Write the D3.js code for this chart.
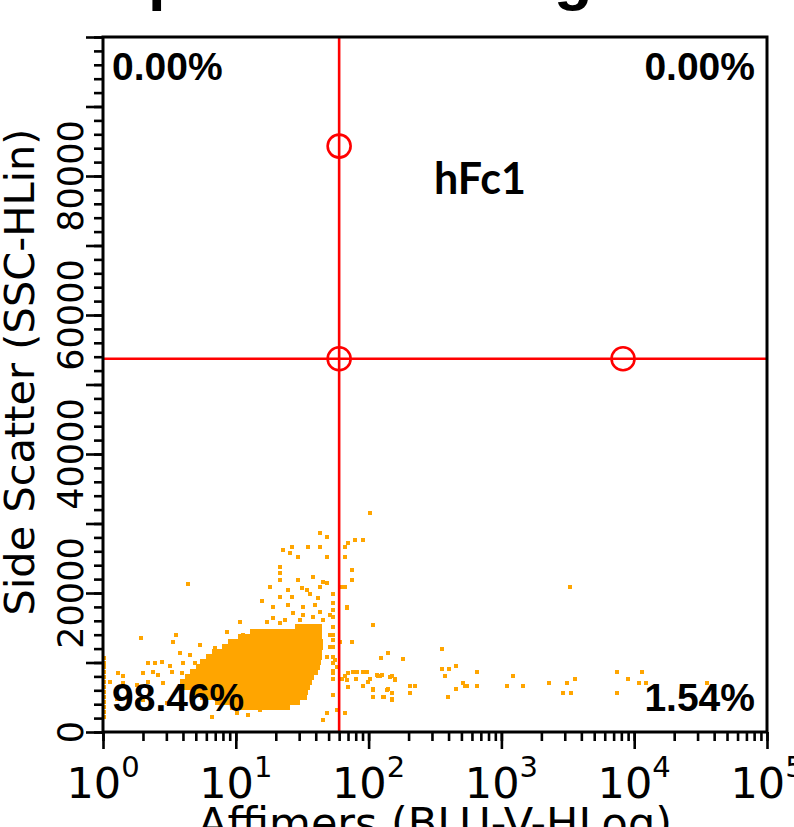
<!DOCTYPE html>
<html>
<head>
<meta charset="utf-8">
<script src="https://cdn.jsdelivr.net/npm/d3@7"></script>
<style>
  body { margin: 0; background: #fff; }
  svg { display: block; }
</style>
</head>
<body>
<svg id="plot" width="794" height="827"></svg>
<script>
// --- data ---
var titleText = "Specific binding";
var xTitle = "Affimers (BLU-V-HLog)";
var yTitle = "Side Scatter (SSC-HLin)";
var sampleName = "hFc1";

var xDecades = [1, 10, 100, 1000, 10000, 100000];
var yLabelValues = [0, 20000, 40000, 60000, 80000];

// quadrant gate (Affimer value, SSC value) and its handles
var gateX = 60;
var gateY = 53700;
var gateHandles = [[60, 84300], [60, 53700], [8240, 53700]];

// quadrant percentages: UL, UR, LL, LR
var quadText = ["0.00%", "0.00%", "98.46%", "1.54%"];

// dense part of the population: [SSC, Affimer min, Affimer max]
var blobRows = [
  [15110, 27.9, 44.6],
  [14390, 12.8, 44.6],
  [13670, 10.4, 44.6],
  [12950, 8.74, 45.4],
  [12230, 7.87, 45.4],
  [11510, 6.62, 44.6],
  [10790, 5.97, 44.6],
  [10070, 5.37, 43.8],
  [9350, 5.01, 43.1],
  [8630, 4.52, 41.6],
  [7910, 4.14, 38.8],
  [7200, 3.80, 37.5],
  [6480, 3.67, 36.2],
  [5760, 4.52, 35.0],
  [5040, 5.37, 34.4],
  [4320, 6.97, 30.4],
  [3600, 9.04, 25.6]
];

// events piled on the lower edge of the Affimer axis (SSC values)
var edgeEvents = [10650, 9930, 9350, 8630, 7910, 7200, 6480, 5760, 5040, 4320, 3600, 2880, 2160];

// scattered events: [Affimer, SSC]
var events = [
  [102, 31500], [43.1, 28640], [48.6, 28060], [22.7, 26190], [25.6, 25760], [26.5, 26620],
  [35.0, 26620], [43.1, 26620], [29.4, 25180], [48.6, 25180], [70.0, 27200], [79.0, 27630],
  [90.7, 27630], [66.4, 26620], [66.4, 25180], [21.5, 23740], [21.5, 22880], [21.5, 21870],
  [75.0, 23310], [75.0, 21870], [4.37, 21300], [29.4, 21870], [38.1, 22300], [45.4, 21590],
  [48.6, 21440], [18.1, 20870], [31.5, 20720], [43.1, 20870], [34.4, 20430], [24.7, 20430],
  [63.0, 20870], [66.4, 20870], [21.5, 19430], [26.5, 19430], [36.2, 19860], [41.6, 19280],
  [54.0, 19860], [15.7, 18850], [19.1, 17990], [24.7, 18280], [32.1, 17990], [39.5, 18280],
  [54.0, 18560], [68.8, 17840], [27.0, 17120], [32.1, 16840], [43.1, 17270], [51.2, 16840],
  [19.1, 16400], [23.5, 16120], [30.4, 16120], [38.1, 16550], [45.4, 16120], [108, 15400],
  [10.8, 15830], [17.2, 15830], [21.5, 15690], [8.59, 14390], [11.3, 13960], [14.4, 14390],
  [17.2, 14390], [51.2, 13960], [60.9, 12950], [75.0, 12950], [3.55, 13960], [3.37, 12950],
  [1.93, 13530], [5.37, 12520], [6.97, 12090], [4.52, 11080], [3.80, 11370], [51.2, 12230],
  [48.6, 10790], [55.8, 10360], [140, 11370], [124, 10650], [2.18, 9930], [2.46, 9930],
  [2.78, 10070], [3.20, 9500], [4.0, 9930], [4.93, 9930], [6.07, 10070], [1.30, 8490],
  [1.41, 8060], [2.0, 8490], [2.38, 8630], [2.59, 8200], [3.31, 8630], [3.93, 8490],
  [4.37, 7910], [1.13, 7200], [1.41, 7050], [1.80, 6760], [2.18, 7200], [2.83, 7050],
  [1.27, 4750], [1.54, 4890], [1.80, 4320], [2.0, 4600], [3.03, 4170], [6.62, 2160],
  [12.4, 2450], [15.2, 3170], [10.2, 2730], [48.6, 2730], [45.4, 1730], [66.4, 2730],
  [70.0, 8490], [76.3, 8630], [90.7, 8630], [97.2, 8630], [116, 8200], [126, 8200],
  [145, 7910], [158, 7480], [68.8, 7480], [70.0, 6480], [98.9, 7200], [108, 6040],
  [138, 6040], [150, 5610], [150, 4600], [128, 5040], [108, 5040], [54.0, 8490],
  [54.0, 9930], [57.8, 9350], [54.0, 17560], [54.0, 16550], [54.0, 15110], [54.0, 13960],
  [54.0, 13240], [54.0, 12230], [54.0, 10790], [54.0, 8780], [54.0, 7630], [54.0, 5320],
  [68.8, 17990], [182, 10500], [357, 11940], [81.8, 8630], [66.4, 8060], [63.0, 7630],
  [80.4, 7630], [118, 8060], [122, 8060], [150, 8060], [158, 7630], [102, 7630],
  [90.7, 6620], [108, 6190], [140, 6190], [205, 6620], [224, 6620], [205, 5610],
  [150, 4750], [131, 5040], [396, 5040], [357, 9070], [403, 9070], [455, 9500],
  [376, 8060], [514, 7050], [532, 6620], [551, 6620], [455, 6190], [655, 8630],
  [655, 6620], [1220, 8060], [1100, 6620], [1455, 6620], [2280, 7050], [3120, 7050],
  [3580, 7630], [2910, 5610], [3340, 5610], [3290, 20870], [7420, 8630], [7420, 5610],
  [8980, 7630], [11450, 8630], [10870, 7050], [12270, 7050], [35300, 7050], [57.8, 3170]
];

// --- layout ---
var svg = d3.select("#plot");
var plot = {left: 103, right: 767, top: 37, bottom: 732};
var dot = 4.3;
var orange = "#ffa500";

var x = d3.scaleLog()
    .domain([1, 100000])
    .range([plot.left, plot.right]);

var y = d3.scaleLinear()
    .domain([0, 100000])
    .range([plot.bottom, plot.top]);

var rowHalf = 400; // a bit more than half a bin in SSC units, so rows touch

// title (mostly outside the page)
svg.append("text")
    .attr("x", 106)
    .attr("y", -2)
    .attr("font-family", "Liberation Sans, Arial, sans-serif")
    .attr("font-weight", "bold")
    .attr("font-size", 63)
    .text(titleText);

// Draw the dense population
svg.selectAll(".blob")
    .data(blobRows)
  .enter().append("rect")
    .attr("class", "blob")
    .attr("x", function(d) { return x(d[1]); })
    .attr("width", function(d) { return x(d[2]) - x(d[1]); })
    .attr("y", function(d) { return y(d[0] + rowHalf); })
    .attr("height", function(d) { return y(d[0] - rowHalf) - y(d[0] + rowHalf); })
    .attr("shape-rendering", "crispEdges")
    .attr("fill", orange);

// events stacked on the axis
svg.selectAll(".edge")
    .data(edgeEvents)
  .enter().append("rect")
    .attr("class", "edge")
    .attr("x", x(1.02) - dot / 2)
    .attr("y", function(d) { return y(d) - dot / 2; })
    .attr("width", dot)
    .attr("height", dot)
    .attr("shape-rendering", "crispEdges")
    .attr("fill", orange);

// sparse events
svg.selectAll(".event")
    .data(events)
  .enter().append("rect")
    .attr("class", "event")
    .attr("x", function(d) { return x(d[0]) - dot / 2; })
    .attr("y", function(d) { return y(d[1]) - dot / 2; })
    .attr("width", dot)
    .attr("height", dot)
    .attr("shape-rendering", "crispEdges")
    .attr("fill", orange);

// Draw the quadrant gate
var gate = svg.append("g")
    .attr("stroke", "#ff0000")
    .attr("stroke-width", 2.6)
    .attr("fill", "none");

gate.append("line")
    .attr("x1", x(gateX)).attr("x2", x(gateX))
    .attr("y1", plot.top).attr("y2", plot.bottom);

gate.append("line")
    .attr("x1", plot.left).attr("x2", plot.right)
    .attr("y1", y(gateY)).attr("y2", y(gateY));

gate.selectAll("circle")
    .data(gateHandles)
  .enter().append("circle")
    .attr("cx", function(d) { return x(d[0]); })
    .attr("cy", function(d) { return y(d[1]); })
    .attr("r", 11.5);

// quadrant percentages
var qFont = "Liberation Sans, Arial, sans-serif";
var qPos = [
  {x: plot.left + 9, y: 80, anchor: "start"},
  {x: plot.right - 12, y: 80, anchor: "end"},
  {x: plot.left + 9, y: 711, anchor: "start"},
  {x: plot.right - 12, y: 711, anchor: "end"}
];
svg.selectAll(".quad")
    .data(quadText)
  .enter().append("text")
    .attr("class", "quad")
    .attr("x", function(d, i) { return qPos[i].x; })
    .attr("y", function(d, i) { return qPos[i].y; })
    .attr("text-anchor", function(d, i) { return qPos[i].anchor; })
    .attr("font-family", qFont)
    .attr("font-weight", "bold")
    .attr("font-size", 39)
    .text(function(d) { return d; });

svg.append("text")
    .attr("x", 434)
    .attr("y", 194)
    .attr("font-family", "Lato, sans-serif")
    .attr("font-weight", "bold")
    .attr("font-size", 43)
    .text(sampleName);

// frame
svg.append("rect")
    .attr("x", plot.left)
    .attr("y", plot.top)
    .attr("width", plot.right - plot.left)
    .attr("height", plot.bottom - plot.top)
    .attr("fill", "none")
    .attr("stroke", "#000")
    .attr("stroke-width", 3);

// Y axis ticks
function tickStyle(g) {
  g.select(".domain").remove();
  g.selectAll("line").attr("stroke", "#000").attr("stroke-width", 2.6);
  g.selectAll("text").remove();
}

svg.append("g")
    .attr("transform", "translate(" + plot.left + ",0)")
    .call(d3.axisLeft(y).tickValues(d3.range(0, 100001, 2000)).tickSize(9))
    .call(tickStyle);

svg.append("g")
    .attr("transform", "translate(" + plot.left + ",0)")
    .call(d3.axisLeft(y).tickValues(d3.range(0, 100001, 10000)).tickSize(17))
    .call(tickStyle);

svg.selectAll(".ylab")
    .data(yLabelValues)
  .enter().append("text")
    .attr("class", "ylab")
    .attr("transform", function(d) { return "translate(83," + y(d) + ") rotate(-90)"; })
    .attr("text-anchor", "middle")
    .attr("font-family", "DejaVu Sans, Verdana, sans-serif")
    .attr("font-size", 35)
    .text(function(d) { return d; });

svg.append("text")
    .attr("transform", "translate(34,372) rotate(-90)")
    .attr("text-anchor", "middle")
    .attr("font-family", "DejaVu Sans, Verdana, sans-serif")
    .attr("font-size", 41.5)
    .text(yTitle);

// X axis ticks
svg.append("g")
    .attr("transform", "translate(0," + plot.bottom + ")")
    .call(d3.axisBottom(x).tickValues(x.ticks()).tickSize(9))
    .call(tickStyle);

svg.append("g")
    .attr("transform", "translate(0," + plot.bottom + ")")
    .call(d3.axisBottom(x).tickValues(xDecades).tickSize(17))
    .call(tickStyle);

var xlab = svg.selectAll(".xlab")
    .data(xDecades)
  .enter().append("text")
    .attr("class", "xlab")
    .attr("x", function(d) { return x(d); })
    .attr("y", 798)
    .attr("text-anchor", "middle")
    .attr("font-family", "DejaVu Sans, Verdana, sans-serif")
    .attr("font-size", 43);

xlab.append("tspan").text("10");
xlab.append("tspan")
    .attr("dy", -21)
    .attr("font-size", 29)
    .text(function(d) { return Math.round(Math.log10(d)); });

svg.append("text")
    .attr("x", (plot.left + plot.right) / 2)
    .attr("y", 838)
    .attr("text-anchor", "middle")
    .attr("font-family", "DejaVu Sans, Verdana, sans-serif")
    .attr("font-size", 43)
    .text(xTitle);
</script>
</body>
</html>
